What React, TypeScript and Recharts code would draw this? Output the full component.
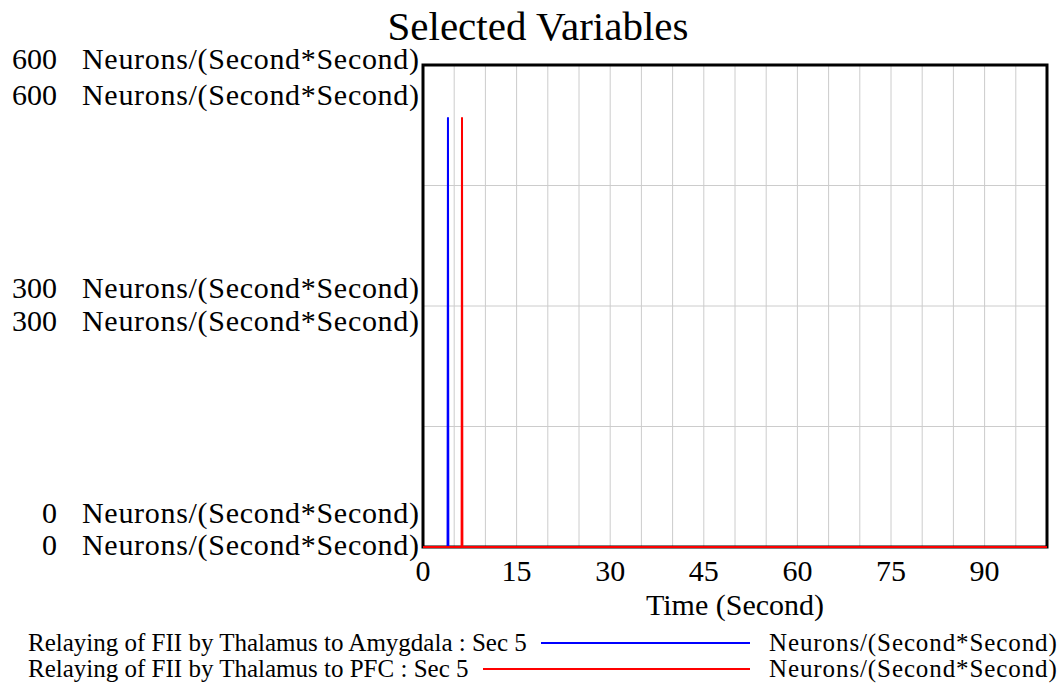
import React from 'react';
import { LineChart, Line, XAxis, YAxis, CartesianGrid, ReferenceArea } from 'recharts';

// ---- data ----
const timeAmygdala = [0, 3.9375, 4, 4.0625, 100];
const valuesAmygdala = [0, 0, 535, 0, 0];
const timePFC = [0, 6.1875, 6.25, 6.3125, 100];
const valuesPFC = [0, 0, 535, 0, 0];

const xTicks = [0, 5, 10, 15, 20, 25, 30, 35, 40, 45, 50, 55, 60, 65, 70, 75, 80, 85, 90, 95, 100];
const xLabelTicks = [0, 15, 30, 45, 60, 75, 90];
const yTicks = [0, 150, 300, 450, 600];
const yLabelTicks = [0, 300, 600];

const unit = 'Neurons/(Second*Second)';
const seriesNames = ['Relaying of FII by Thalamus to Amygdala : Sec 5', 'Relaying of FII by Thalamus to PFC : Sec 5'];
const seriesColors = ['#0000ff', '#ff0000'];

const amygdalaData = timeAmygdala.map((t, i) => ({ t, v: valuesAmygdala[i] }));
const pfcData = timePFC.map((t, i) => ({ t, v: valuesPFC[i] }));

const FONT = '"Liberation Serif", "Times New Roman", serif';

// label line baseline offsets (px) relative to tick position
const yLabelOffsets: Record<number, [number, number]> = {
  600: [4, 40],
  300: [-8, 25],
  0: [-24, 8],
};

const YTick = (props: any) => {
  const { y, payload } = props;
  const v = payload.value;
  if (!yLabelTicks.includes(v)) return null;
  const offs = yLabelOffsets[v];
  return (
    <g>
      {offs.map((o, i) => (
        <g key={i}>
          <text x={57} y={y + o} textAnchor="end" fontFamily={FONT} fontSize={30} fill="#000">{v}</text>
          <text x={82} y={y + o} textAnchor="start" fontFamily={FONT} fontSize={30} letterSpacing={0.7} fill="#000">{unit}</text>
        </g>
      ))}
    </g>
  );
};

const XTick = (props: any) => {
  const { x, y, payload } = props;
  const v = payload.value;
  if (!xLabelTicks.includes(v)) return null;
  return (
    <text x={x} y={y + 26} textAnchor="middle" fontFamily={FONT} fontSize={30} fill="#000">{v}</text>
  );
};

const LegendBlock = () => (
  <div style={{ position: 'absolute', left: 28, top: 630, width: 1036, fontFamily: FONT, fontSize: 25, color: '#000', lineHeight: '26px' }}>
    {seriesNames.map((n, i) => (
      <div key={i} style={{ display: 'flex', alignItems: 'center', height: 26 }}>
        <div style={{ width: 722, display: 'flex', alignItems: 'center' }}>
          <span style={{ whiteSpace: 'nowrap' }}>{n}</span>
          <div style={{ flex: 1, height: 2, background: seriesColors[i], marginLeft: 14 }} />
        </div>
        <span style={{ marginLeft: 19, whiteSpace: 'nowrap', letterSpacing: 0.9 }}>{unit}</span>
      </div>
    ))}
  </div>
);

export default function App() {
  return (
    <div style={{ position: 'absolute', left: 0, top: 0, width: 1064, height: 688, background: '#fff', overflow: 'hidden' }}>
      <div style={{ position: 'absolute', left: 0, top: 3, width: 1076, textAlign: 'center', fontFamily: FONT, fontSize: 41, color: '#000', lineHeight: '47px' }}>
        Selected Variables
      </div>
      <LineChart
        width={1064}
        height={688}
        margin={{ top: 65, right: 17, left: 0, bottom: 69 }}
        style={{ position: 'absolute', left: 0, top: 0 }}
      >
        <CartesianGrid stroke="#cccccc" strokeWidth={1} vertical horizontal />
        <XAxis
          dataKey="t"
          type="number"
          domain={[0, 100]}
          ticks={xTicks}
          interval={0}
          height={72}
          axisLine={false}
          tickLine={false}
          tick={<XTick />}
          allowDuplicatedCategory={false}
          label={{ value: 'Time (Second)', position: 'insideBottom', offset: 4, style: { fontFamily: FONT, fontSize: 30, fill: '#000' } }}
        />
        <YAxis
          type="number"
          domain={[0, 600]}
          ticks={yTicks}
          interval={0}
          width={423}
          axisLine={false}
          tickLine={false}
          tick={<YTick />}
        />
        <ReferenceArea x1={0} x2={100} y1={0} y2={600} fill="none" stroke="#000" strokeWidth={3} ifOverflow="visible" />
        <Line data={amygdalaData} dataKey="v" name={seriesNames[0]} stroke={seriesColors[0]} strokeWidth={2} dot={false} type="linear" isAnimationActive={false} />
        <Line data={pfcData} dataKey="v" name={seriesNames[1]} stroke={seriesColors[1]} strokeWidth={2} dot={false} type="linear" isAnimationActive={false} />
      </LineChart>
      <LegendBlock />
    </div>
  );
}
